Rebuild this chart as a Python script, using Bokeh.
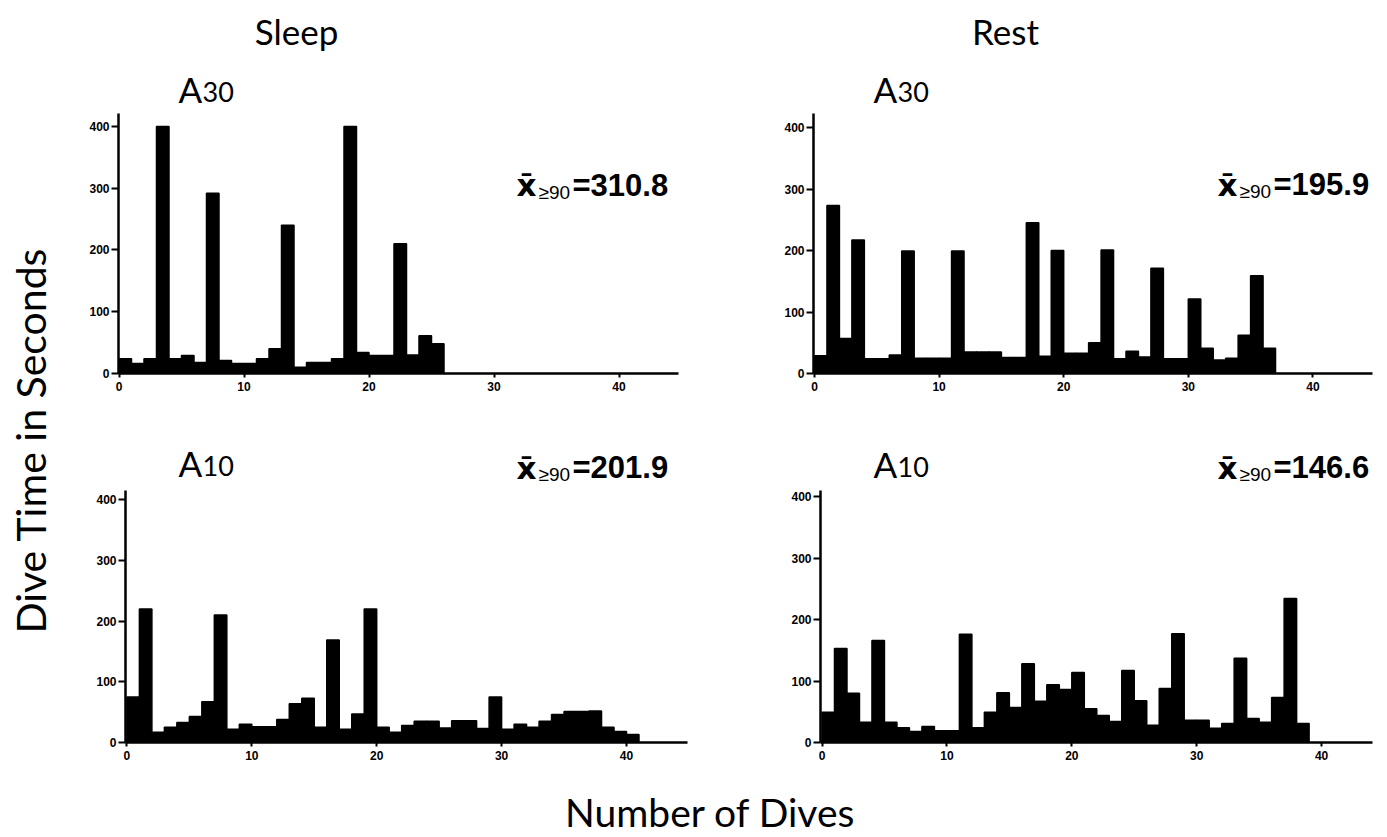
import math
from bokeh.plotting import figure
from bokeh.layouts import row, column
from bokeh.models import Range1d, Label, FixedTicker, ColumnDataSource
from bokeh.embed import file_html
from bokeh.resources import INLINE

# ---------------- data (dive time in seconds, one value per dive) ----------------
sleep_a30 = [24, 16, 24, 400, 24, 29, 18, 292, 21, 16, 16, 24, 40, 240, 10, 18, 18, 24,
             400, 34, 29, 29, 210, 30, 61, 48]
rest_a30 = [29, 273, 57, 217, 24, 24, 30, 199, 25, 25, 25, 199, 35, 35, 35, 26, 26, 245,
            28, 200, 33, 33, 50, 201, 24, 36, 27, 171, 24, 24, 121, 41, 22, 25, 62, 159, 41]
sleep_a10 = [75, 220, 17, 25, 33, 43, 67, 210, 22, 30, 26, 26, 38, 64, 73, 25, 169, 22, 47,
             220, 25, 17, 28, 35, 35, 24, 36, 36, 23, 75, 22, 30, 25, 35, 46, 51, 51, 52,
             25, 18, 13]
rest_a10 = [49, 153, 80, 33, 166, 33, 24, 18, 26, 19, 19, 176, 24, 49, 81, 57, 128, 67, 94,
            86, 114, 55, 44, 34, 117, 68, 28, 88, 177, 36, 36, 23, 31, 137, 39, 33, 73, 234, 31]

x_ticks = [0, 10, 20, 30, 40]
y_ticks = [0, 100, 200, 300, 400]
column_titles = ["Sleep", "Rest"]
row_letters = ["A", "A"]
row_numbers = ["30", "10"]
mean_values = ["310.8", "195.9", "201.9", "146.6"]
x_title = "Number of Dives"
y_title = "Dive Time in Seconds"

HEAD_FONT = "Lato"
NUM_FONT = "Liberation Sans"
TICK_FONT = "Liberation Sans"


def style_blank(p):
    p.xgrid.visible = False
    p.ygrid.visible = False
    p.outline_line_color = None
    p.background_fill_color = "white"
    p.border_fill_color = "white"


def panel(values, canvas, frame, x0, sx, sy):
    cx0, cy0, cx1, cy1 = canvas
    fl, ft, fr, fb = frame
    xr = Range1d((fl - x0) / sx, (fr - x0) / sx)
    yr = Range1d(0, (fb - ft) / sy)
    p = figure(width=cx1 - cx0, height=cy1 - cy0, x_range=xr, y_range=yr,
               output_backend="svg", toolbar_location=None,
               min_border_left=fl - cx0, min_border_right=cx1 - fr,
               min_border_top=ft - cy0, min_border_bottom=cy1 - fb)
    n = len(values)
    src = ColumnDataSource(dict(left=[i for i in range(n)],
                                right=[i + 1 for i in range(n)],
                                top=values))
    p.quad(left="left", right="right", top="top", bottom=0, source=src,
           fill_color="black", line_color="black", line_width=1.5)
    style_blank(p)
    p.xaxis.ticker = FixedTicker(ticks=x_ticks)
    p.yaxis.ticker = FixedTicker(ticks=y_ticks)
    for ax in (p.xaxis, p.yaxis):
        ax.axis_line_width = 2.5
        ax.axis_line_color = "black"
        ax.major_tick_line_width = 2
        ax.major_tick_line_color = "black"
        ax.major_tick_in = 0
        ax.minor_tick_line_color = None
        ax.major_label_text_font = TICK_FONT
        ax.major_label_text_font_style = "bold"
        ax.major_label_text_font_size = "12px"
        ax.major_label_text_color = "black"
    p.xaxis.major_tick_out = 4
    p.xaxis.major_label_standoff = 4
    p.yaxis.major_tick_out = 7
    p.yaxis.major_label_standoff = 2

    def to_data(px, py):
        return ((px - x0) / sx, (fb - py) / sy)
    return p, to_data


def strip(bbox):
    bx0, by0, bx1, by1 = bbox
    w, h = bx1 - bx0, by1 - by0
    p = figure(width=w, height=h, x_range=Range1d(0, w), y_range=Range1d(0, h),
               output_backend="svg", toolbar_location=None,
               min_border=0, min_border_left=0, min_border_right=0,
               min_border_top=0, min_border_bottom=0,
               x_axis_location=None, y_axis_location=None)
    style_blank(p)

    def to_data(px, py):
        return (px - bx0, by1 - py)
    return p, to_data


def add_text(p, to_data, px, py, text, font, size, style="normal", align="left",
             angle=0.0):
    # py is the vertical middle of the text
    x, y = to_data(px, py)
    p.add_layout(Label(x=x, y=y, text=text, text_font=font, text_font_size=f"{size}px",
                       text_font_style=style, text_align=align, text_baseline="middle",
                       text_color="black", angle=angle))


def heading(p, to_data, letter, number, hx, base):
    add_text(p, to_data, hx, base - 0.38 * 35, letter, HEAD_FONT, 35)
    add_text(p, to_data, hx + 24, base - 0.38 * 27, number, HEAD_FONT, 27)


def mean_note(p, to_data, mean, ax_, base):
    add_text(p, to_data, ax_, base - 0.35 * 31, "x\u0304", "DejaVu Sans", 31, style="bold")
    add_text(p, to_data, ax_ + 22, base + 3 - 0.35 * 19, "\u226590", NUM_FONT, 19)
    add_text(p, to_data, ax_ + 56, base - 0.35 * 31, "=" + mean, NUM_FONT, 31, style="bold")


# ---- layout boxes (page pixels, origin at the top-left of the page) ----
hdr1, hdr1_d = strip((68, 0, 1377, 112))
add_text(hdr1, hdr1_d, 296, 30, column_titles[0], HEAD_FONT, 35, align="center")
add_text(hdr1, hdr1_d, 1005, 30, column_titles[1], HEAD_FONT, 35, align="center")
heading(hdr1, hdr1_d, row_letters[0], row_numbers[0], 178, 102)
heading(hdr1, hdr1_d, row_letters[0], row_numbers[0], 873, 102)

tl, tl_d = panel(sleep_a30, (68, 112, 720, 400), (118, 112, 678, 373), 118.5, 12.5, 0.62)
mean_note(tl, tl_d, mean_values[0], 516, 195)
tr, tr_d = panel(rest_a30, (720, 112, 1377, 400), (813, 113, 1372, 373), 814, 12.46, 0.615)
mean_note(tr, tr_d, mean_values[1], 1217, 195)

hdr2, hdr2_d = strip((68, 400, 1377, 487))
heading(hdr2, hdr2_d, row_letters[1], row_numbers[1], 178, 476)
heading(hdr2, hdr2_d, row_letters[1], row_numbers[1], 873, 477)
mean_note(hdr2, hdr2_d, mean_values[2], 516, 478)
mean_note(hdr2, hdr2_d, mean_values[3], 1217, 478)

bl, bl_d = panel(sleep_a10, (68, 487, 720, 775), (125, 487, 687, 743), 126.4, 12.49, 0.6167)
br, br_d = panel(rest_a10, (720, 487, 1377, 775), (820, 490, 1372, 742), 821.5, 12.49, 0.615)

xs, xs_d = strip((68, 775, 1377, 837))
add_text(xs, xs_d, 710, 811, x_title, HEAD_FONT, 39, align="center")

ys, ys_d = strip((0, 0, 68, 837))
add_text(ys, ys_d, 30, 440, y_title, HEAD_FONT, 41, align="center", angle=math.pi / 2)

layout = row(ys, column(hdr1, row(tl, tr), hdr2, row(bl, br), xs))

with open("out.html", "w") as f:
    f.write(file_html(layout, INLINE))
